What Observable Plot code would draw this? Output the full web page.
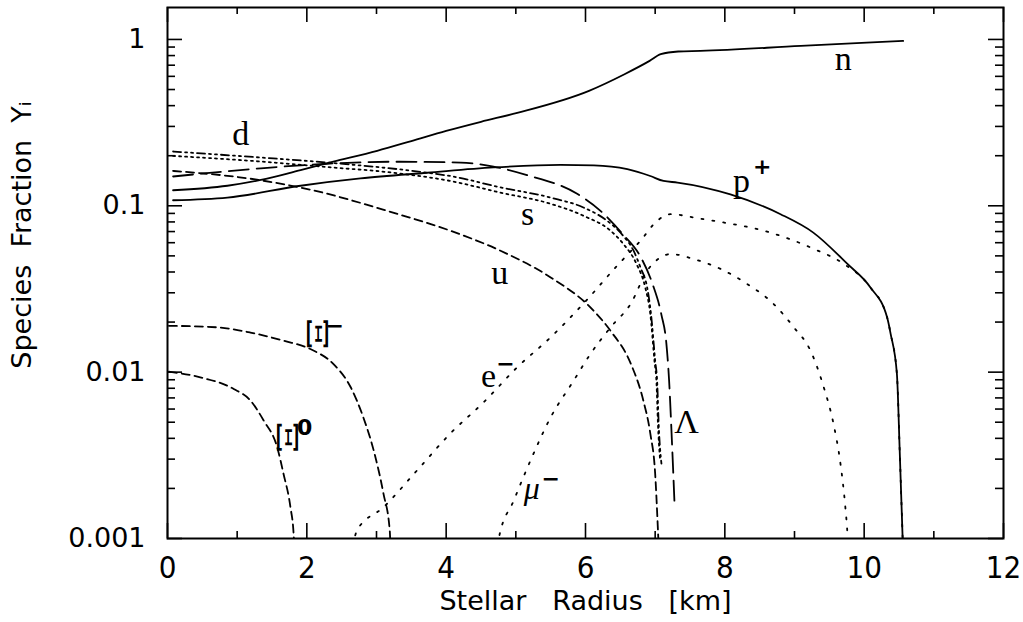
<!DOCTYPE html>
<html><head><meta charset="utf-8">
<script src="https://cdn.jsdelivr.net/npm/d3@7"></script>
<script src="https://cdn.jsdelivr.net/npm/@observablehq/plot@0.6"></script>
<style>
html,body{margin:0;padding:0;background:#fff;}
</style></head><body><div id="chart"></div>
<script>
// ---- tick values and labels ----
const xMajor = [0, 2, 4, 6, 8, 10, 12];
const xMinor = [1, 3, 5, 7, 9, 11];
const xTickLabels = ["0", "2", "4", "6", "8", "10", "12"];
const yMajor = [0.001, 0.01, 0.1, 1];
const yTickLabels = ["0.001", "0.01", "0.1", "1"];
const yMinor = [0.002,0.003,0.004,0.005,0.006,0.007,0.008,0.009,
                0.02,0.03,0.04,0.05,0.06,0.07,0.08,0.09,
                0.2,0.3,0.4,0.5,0.6,0.7,0.8,0.9];

// ---- series: [radius km, species fraction] ----
const nData = [[0.08,0.124],[0.86,0.132],[1.34,0.143],[1.91,0.164],[2.38,0.184],[3.01,0.214],[3.5,0.245],[4.0,0.282],[4.5,0.32],[5.02,0.362],[6.05,0.491],[6.56,0.618],[6.92,0.743],[7.08,0.815],[7.33,0.846],[7.65,0.853],[9.09,0.914],[10.56,0.98]];
const pData = [[0.08,0.108],[0.86,0.112],[1.91,0.132],[2.77,0.146],[3.73,0.158],[4.68,0.170],[5.64,0.176],[6.12,0.175],[6.6,0.166],[6.93,0.151],[7.12,0.141],[7.32,0.138],[8.08,0.117],[8.8,0.089],[9.27,0.069],[9.76,0.0447],[10.09,0.0323],[10.33,0.0213],[10.38,0.017],[10.47,0.00975],[10.51,0.00338],[10.56,0.0008]];
const dData = [[0.08,0.212],[1.34,0.195],[2.29,0.182],[3.73,0.158],[4.06,0.151],[4.78,0.129],[5.5,0.112],[5.97,0.0977],[6.31,0.0813],[6.54,0.0661],[6.69,0.0537],[6.79,0.0425],[6.885,0.0323],[6.94,0.0224],[7.0,0.0117],[7.03,0.00853],[7.05,0.00491],[7.09,0.00282]];
const sData = [[0.08,0.1995],[1.34,0.1845],[2.29,0.171],[3.24,0.158],[4.06,0.141],[4.78,0.120],[5.5,0.1028],[5.97,0.0871],[6.36,0.0708],[6.54,0.0592],[6.73,0.0449],[6.86,0.032],[6.93,0.0224],[6.99,0.0117],[7.02,0.0085],[7.04,0.0049],[7.07,0.003]];
const uData = [[0.08,0.162],[1.26,0.144],[2.05,0.125],[3.2,0.092],[4.06,0.0708],[4.78,0.0537],[5.5,0.0371],[6.07,0.0245],[6.36,0.0177],[6.65,0.01125],[6.83,0.00675],[6.93,0.00428],[7.0,0.00245],[7.04,0.00112],[7.05,0.0009]];
const lambdaData = [[0.08,0.150],[1.34,0.168],[2.29,0.179],[3.24,0.184],[4.21,0.182],[4.68,0.172],[5.16,0.153],[5.88,0.118],[6.215,0.0933],[6.53,0.0679],[6.79,0.0494],[6.96,0.0341],[7.09,0.0221],[7.16,0.0150],[7.2,0.0089],[7.24,0.00388],[7.28,0.00154]];
const xiMinusData = [[0.02,0.0190],[0.71,0.0186],[1.19,0.0173],[1.665,0.01545],[2.05,0.01377],[2.38,0.0112],[2.63,0.00811],[2.81,0.00536],[2.96,0.00338],[3.1,0.00186],[3.19,0.00112],[3.2,0.0009]];
const xiZeroData = [[0.02,0.01007],[0.47,0.00931],[0.95,0.00792],[1.19,0.00675],[1.38,0.00512],[1.575,0.00353],[1.665,0.00245],[1.765,0.00154],[1.81,0.00107],[1.82,0.0009]];
const eData = [[2.66,0.0009],[2.72,0.00112],[3.1,0.00154],[3.58,0.00256],[4.06,0.00428],[4.54,0.0066],[5.02,0.0107],[5.5,0.0162],[5.97,0.0258],[6.455,0.0437],[6.79,0.0617],[7.03,0.0813],[7.22,0.0891],[7.6,0.0843],[7.98,0.0794],[8.56,0.0708],[9.28,0.055],[9.71,0.0447],[10.09,0.0323],[10.33,0.0213],[10.38,0.017],[10.47,0.00975],[10.51,0.00338],[10.56,0.0008]];
const muData = [[4.74,0.0009],[4.755,0.001],[4.97,0.00169],[5.21,0.00294],[5.5,0.00535],[5.83,0.00889],[6.07,0.01285],[6.36,0.0186],[6.65,0.0258],[6.885,0.0407],[7.08,0.049],[7.22,0.0513],[7.55,0.0479],[7.94,0.0417],[8.32,0.0339],[8.7,0.0257],[8.99,0.0186],[9.23,0.01345],[9.42,0.00811],[9.56,0.00489],[9.66,0.00281],[9.73,0.00154],[9.76,0.00107],[9.77,0.0009]];

// ---- curve labels (data coordinates) ----
const curveLabels = [
  {text:"n", r:9.70, Y:0.764},
  {text:"d", r:1.05, Y:0.270},
  {text:"p", r:8.24, Y:0.141},
  {text:"s", r:5.17, Y:0.0895},
  {text:"u", r:4.77, Y:0.0396},
  {text:"e", r:4.61, Y:0.00953},
  {text:"Λ", r:7.45, Y:0.0050}
];
const muLabel = [{text:"μ", r:5.23, Y:0.00199}];
const xiLabels = [{text:"Ξ", r:2.12, Y:0.0170}, {text:"Ξ", r:1.70, Y:0.00405}];
const supLabels = [
  {text:"+", r:8.535, Y:0.172},
  {text:"−", r:2.40, Y:0.0190},
  {text:"0", r:1.97, Y:0.00460},
  {text:"−", r:4.85, Y:0.01125},
  {text:"−", r:5.50, Y:0.00229}
];

// ---- styles ----
const styleOf = [
  [nData, null],
  [pData, null],
  [dData, "8,4,2,4,2,4"],
  [sData, "2,4"],
  [uData, "8,5"],
  [lambdaData, "20,8"],
  [xiMinusData, "8,5"],
  [xiZeroData, "8,5"],
  [eData, "2,9"],
  [muData, "2,9"]
];

const sans = "'DejaVu Sans', sans-serif";
const narrow = "'Liberation Sans Narrow', 'DejaVu Sans Condensed', 'DejaVu Sans', sans-serif";
const serif = "'Liberation Serif', 'DejaVu Serif', serif";
const PW = 1003 - 167, PH = 538 - 7;
const NB = "\u00a0";

const marks = [];
for (const [data, dash] of styleOf) {
  marks.push(Plot.line(data, {x: d => d[0], y: d => d[1], stroke: "black", strokeWidth: 1.8,
    strokeDasharray: dash ?? undefined, curve: "monotone-x", clip: true}));
}
// ticks inward on all four sides
marks.push(
  Plot.tickX(xMajor, {x: d => d, stroke: "black", strokeWidth: 1.6, insetTop: PH - 15}),
  Plot.tickX(xMajor, {x: d => d, stroke: "black", strokeWidth: 1.6, insetBottom: PH - 15}),
  Plot.tickX(xMinor, {x: d => d, stroke: "black", strokeWidth: 1.6, insetTop: PH - 7}),
  Plot.tickX(xMinor, {x: d => d, stroke: "black", strokeWidth: 1.6, insetBottom: PH - 7}),
  Plot.tickY(yMajor, {y: d => d, stroke: "black", strokeWidth: 1.6, insetRight: PW - 15}),
  Plot.tickY(yMajor, {y: d => d, stroke: "black", strokeWidth: 1.6, insetLeft: PW - 15}),
  Plot.tickY(yMinor, {y: d => d, stroke: "black", strokeWidth: 1.6, insetRight: PW - 8}),
  Plot.tickY(yMinor, {y: d => d, stroke: "black", strokeWidth: 1.6, insetLeft: PW - 8}),
  Plot.frame({stroke: "black", strokeWidth: 2})
);
// tick labels and axis titles
marks.push(
  Plot.text(yMajor, {y: d => d, text: (d, i) => yTickLabels[i], frameAnchor: "left", dx: -22,
    textAnchor: "end", fontSize: 27, fontFamily: sans, fill: "black"}),
  Plot.text(xMajor, {x: d => d, text: (d, i) => xTickLabels[i], frameAnchor: "bottom", dy: 39,
    fontSize: 31, fontFamily: narrow, fill: "black"}),
  Plot.text(["Stellar" + NB + NB + " Radius" + NB + NB + " [km]"], {frameAnchor: "bottom", dy: 71,
    fontSize: 27, fontFamily: sans, fill: "black"}),
  Plot.text(["Species" + NB + " Fraction" + NB + " Yᵢ"], {frameAnchor: "left", dx: -145, dy: -38,
    rotate: -90, textAnchor: "middle", fontSize: 27, fontFamily: sans, fill: "black"})
);
// curve labels
marks.push(
  Plot.text(curveLabels, {x: "r", y: "Y", text: "text", fontSize: 34, fontFamily: serif, fill: "black"}),
  Plot.text(muLabel, {x: "r", y: "Y", text: "text", fontSize: 32, fontFamily: serif, fontStyle: "italic", fill: "black"}),
  Plot.text(xiLabels, {x: "r", y: "Y", text: "text", rotate: 90, fontSize: 27, fontFamily: "'DejaVu Serif', serif", fill: "black"}),
  Plot.text(supLabels, {x: "r", y: "Y", text: "text", fontSize: 22, fontFamily: sans, fontWeight: "bold", fill: "black"})
);

const chart = Plot.plot({
  width: 1023, height: 622,
  marginLeft: 167, marginRight: 20, marginTop: 7, marginBottom: 84,
  x: {domain: [0, 12], axis: null},
  y: {type: "log", domain: [0.001, 1.556], axis: null},
  style: {background: "white", color: "black"},
  marks
});
// stretch the rotated Ξ glyphs along their bars (as in the original lettering)
d3.select(chart).selectAll("text").filter(function() { return this.textContent === "Ξ"; })
  .each(function() {
    const t = this.getAttribute("transform") || "";
    this.setAttribute("transform", t + " scale(1.7,1)");
  });
document.getElementById("chart").appendChild(chart);
</script>
</body></html>
